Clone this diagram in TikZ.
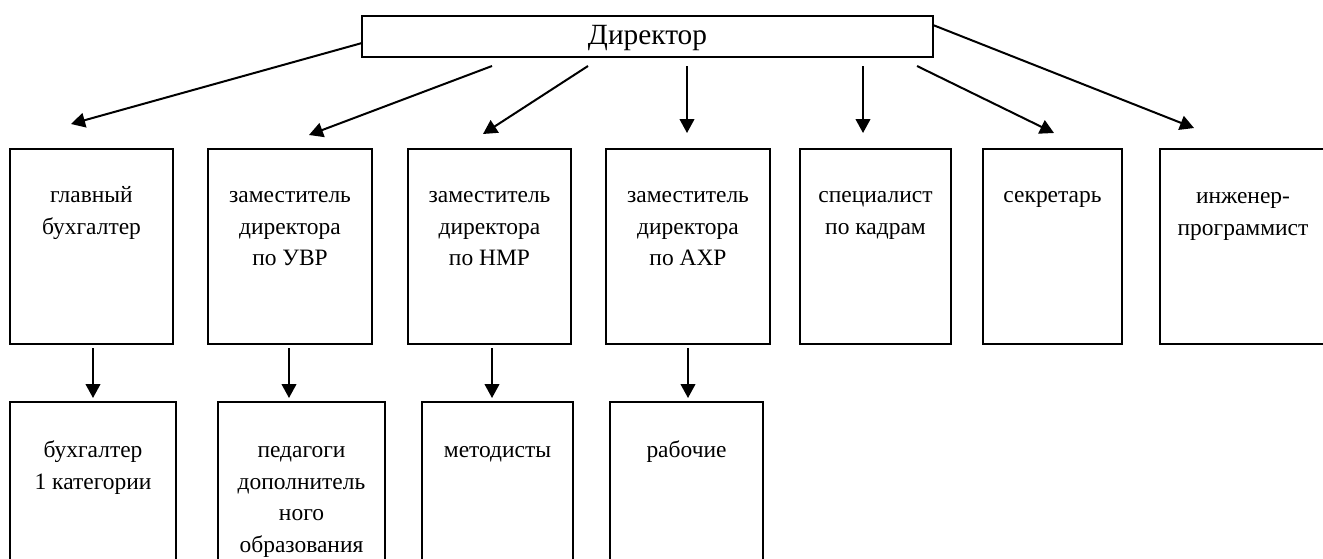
\documentclass[tikz,border=0pt]{standalone}
\usepackage{fontspec}
\setmainfont{Liberation Serif}
\usetikzlibrary{arrows.meta,calc}
\newcommand\ml[1]{\begin{tabular}[t]{@{}c@{}}#1\end{tabular}}
\tikzset{
  box/.style={draw, line width=1.5pt, inner sep=0pt, rectangle},
  txt/.style={inner sep=0pt, anchor=base, font={\fontsize{17.6}{23.8}\selectfont}},
  arr/.style={line width=1.5pt, -{Triangle[length=10.5pt,width=11pt]}}
}
\newcommand\mybox[5]{\node[box, minimum width={(#4-#2)*0.75pt}, minimum height={(#5-#3)*0.75pt}] (#1) at ({(#2+#4)/2},{(#3+#5)/2}) {};}
\begin{document}
\begin{tikzpicture}[x=0.75pt,y=-0.75pt]
\useasboundingbox (0,0) rectangle (1323,558);
\clip (0,0) rectangle (1323,558);
% director
\mybox{dir}{362}{16}{933}{57}
\node[inner sep=0pt, font={\fontsize{22}{26}\selectfont}] (dirt) at ($(dir.center)+(0,1.5)$) {Директор};
% top row
\mybox{t1}{10}{149}{173}{344}
\mybox{t2}{208}{149}{372}{344}
\mybox{t3}{408}{149}{571}{344}
\mybox{t4}{606}{149}{770}{344}
\mybox{t5}{800}{149}{951}{344}
\mybox{t6}{983}{149}{1122}{344}
\mybox{t7}{1160}{149}{1345}{344}
% bottom row
\mybox{b1}{10}{402}{176}{585}
\mybox{b2}{218}{402}{385}{585}
\mybox{b3}{422}{402}{573}{585}
\mybox{b4}{610}{402}{763}{585}
% texts
\node[txt] (t1x) at ($(t1.north)+(0,54.5)$) {\ml{главный\\бухгалтер}};
\node[txt] (t2x) at ($(t2.north)+(0,54.5)$) {\ml{заместитель\\директора\\по УВР}};
\node[txt] (t3x) at ($(t3.north)+(0,54.5)$) {\ml{заместитель\\директора\\по НМР}};
\node[txt] (t4x) at ($(t4.north)+(0,54.5)$) {\ml{заместитель\\директора\\по АХР}};
\node[txt] (t5x) at ($(t5.north)+(0,54.5)$) {\ml{специалист\\по кадрам}};
\node[txt] (t6x) at ($(t6.north)+(0,54.5)$) {\ml{секретарь}};
\node[txt] (t7x) at (1243,203.5) {\ml{инженер-\\программист}};
\node[txt] (b1x) at ($(b1.north)+(0,56.5)$) {\ml{бухгалтер\\1 категории}};
\node[txt] (b2x) at ($(b2.north)+(0,56.5)$) {\ml{педагоги\\дополнитель\\ного\\образования}};
\node[txt] (b3x) at ($(b3.north)+(0,56.5)$) {\ml{методисты}};
\node[txt] (b4x) at ($(b4.north)+(0,56.5)$) {\ml{рабочие}};
% arrow end points
\coordinate (s1) at (362,43);  \coordinate (e1) at (71,124);
\coordinate (s2) at (492,66);  \coordinate (e2) at (309,135);
\coordinate (s3) at (588,66);  \coordinate (e3) at (483,134);
\coordinate (s4) at (687,66);  \coordinate (e4) at (687,133);
\coordinate (s5) at (863,66);  \coordinate (e5) at (863,133);
\coordinate (s6) at (917,66);  \coordinate (e6) at (1054,133);
\coordinate (s7) at (933,25);  \coordinate (e7) at (1194,128);
\foreach \i in {1,...,7} {\draw[arr] (s\i) -- (e\i);}
\coordinate (u1) at (93,348);  \coordinate (v1) at (93,398);
\coordinate (u2) at (289,348); \coordinate (v2) at (289,398);
\coordinate (u3) at (492,348); \coordinate (v3) at (492,398);
\coordinate (u4) at (688,348); \coordinate (v4) at (688,398);
\foreach \i in {1,...,4} {\draw[arr] (u\i) -- (v\i);}
\end{tikzpicture}
\end{document}
